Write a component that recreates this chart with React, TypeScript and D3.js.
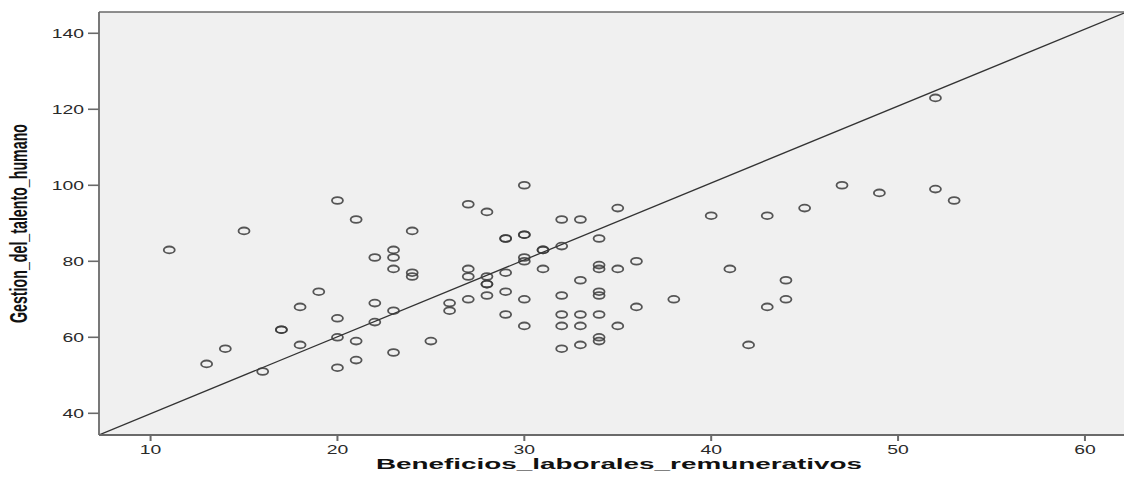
import React from "react";
import * as d3 from "d3";

// Beneficios laborales remunerativos (x) vs Gestión del talento humano (y)
const beneficios: number[] = [
  11, 13, 14, 15, 16, 17, 17, 18, 18, 19,
  20, 20, 20, 20, 21, 21, 21, 22, 22, 22,
  23, 23, 23, 23, 23, 24, 24, 24, 25, 26,
  26, 27, 27, 27, 27, 28, 28, 28, 28, 28,
  29, 29, 29, 29, 29, 30, 30, 30, 30, 30,
  30, 30, 31, 31, 31, 32, 32, 32, 32, 32,
  32, 33, 33, 33, 33, 33, 34, 34, 34, 34,
  34, 34, 34, 34, 35, 35, 35, 36, 36, 38,
  40, 41, 42, 43, 43, 44, 44, 45, 47, 49,
  52, 52, 53,
];
const gestion: number[] = [
  83, 53, 57, 88, 51, 62, 62, 68, 58, 72,
  96, 65, 60, 52, 91, 59, 54, 81, 69, 64,
  83, 81, 78, 67, 56, 88, 77, 76, 59, 69,
  67, 95, 78, 76, 70, 93, 76, 74, 74, 71,
  86, 86, 77, 72, 66, 100, 87, 87, 81, 80,
  70, 63, 83, 83, 78, 91, 84, 71, 66, 63,
  57, 91, 75, 66, 63, 58, 86, 79, 78, 72,
  71, 66, 60, 59, 94, 78, 63, 80, 68, 70,
  92, 78, 58, 92, 68, 75, 70, 94, 100, 98,
  123, 99, 96,
];

const xTicks = [10, 20, 30, 40, 50, 60];
const yTicks = [40, 60, 80, 100, 120, 140];
const xDomain: [number, number] = [7.24, 62.09];
const yDomain: [number, number] = [34.29, 145.6];

// Fitted line: gestion = intercept + slope * beneficios
const fitIntercept = 19.65;
const fitSlope = 2.024;

const xTitle = "Beneficios_laborales_remunerativos";
const yTitle = "Gestion_del_talento_humano";

const W = 1124;
const H = 481;
const plot = { left: 99, right: 1124, top: 12, bottom: 435 };

export default function App() {
  const x = d3.scaleLinear().domain(xDomain).range([plot.left, plot.right]);
  const y = d3.scaleLinear().domain(yDomain).range([plot.bottom, plot.top]);

  const fitLine = d3
    .line<number>()
    .x((d) => x(d))
    .y((d) => y(fitIntercept + fitSlope * d));

  const points = beneficios.map((b, i) => ({ b, g: gestion[i] }));
  const axisColor = "#6a6a6a";
  const textColor = "#2a2a2a";
  const stretch = 1.55;

  return (
    <svg
      width={W}
      height={H}
      style={{ position: "absolute", left: 0, top: 0, background: "#fff" }}
    >
      <defs>
        <clipPath id="plotArea">
          <rect
            x={plot.left}
            y={plot.top}
            width={plot.right - plot.left}
            height={plot.bottom - plot.top}
          />
        </clipPath>
      </defs>

      <rect
        x={plot.left}
        y={plot.top}
        width={plot.right - plot.left}
        height={plot.bottom - plot.top}
        fill="#f0f0f0"
      />

      <g clipPath="url(#plotArea)">
        <path
          d={fitLine(xDomain) || ""}
          fill="none"
          stroke="#333"
          strokeWidth={1.3}
        />
        {points.map((p, i) => (
          <ellipse
            key={i}
            cx={x(p.b)}
            cy={y(p.g)}
            rx={5.5}
            ry={3.4}
            fill="none"
            stroke="#3a3a3a"
            strokeWidth={1.8}
            strokeOpacity={0.85}
          />
        ))}
      </g>

      {/* frame: top edge, left and bottom axes */}
      <line x1={plot.left} x2={plot.right} y1={plot.top} y2={plot.top} stroke={axisColor} strokeWidth={1.5} />
      <line x1={plot.left} x2={plot.left} y1={plot.top} y2={plot.bottom} stroke={axisColor} strokeWidth={1.8} />
      <line x1={plot.left} x2={plot.right} y1={plot.bottom} y2={plot.bottom} stroke={axisColor} strokeWidth={1.8} />

      {yTicks.map((t) => (
        <g key={`y${t}`}>
          <line x1={plot.left - 11} x2={plot.left} y1={y(t)} y2={y(t)} stroke={axisColor} strokeWidth={1.6} />
          <text
            transform={`translate(${plot.left - 15},${y(t) + 4.5}) scale(${stretch},1)`}
            textAnchor="end"
            fontFamily="Liberation Sans, Arial, sans-serif"
            fontSize={12.5}
            fill={textColor}
          >
            {t}
          </text>
        </g>
      ))}

      {xTicks.map((t) => (
        <g key={`x${t}`}>
          <line x1={x(t)} x2={x(t)} y1={plot.bottom} y2={plot.bottom + 6} stroke={axisColor} strokeWidth={2} />
          <text
            transform={`translate(${x(t)},${454}) scale(${stretch},1)`}
            textAnchor="middle"
            fontFamily="Liberation Sans, Arial, sans-serif"
            fontSize={12.5}
            fill={textColor}
          >
            {t}
          </text>
        </g>
      ))}

      <text
        x={(376 + 862) / 2}
        y={469}
        textAnchor="middle"
        fontFamily="Liberation Sans, Arial, sans-serif"
        fontWeight="bold"
        fontSize={15}
        fill="#111"
        textLength={486}
        lengthAdjust="spacingAndGlyphs"
      >
        {xTitle}
      </text>

      <text
        transform={`translate(27,${(124 + 323) / 2}) rotate(-90) scale(1,${stretch})`}
        textAnchor="middle"
        fontFamily="Liberation Sans, Arial, sans-serif"
        fontWeight="bold"
        fontSize={15}
        fill="#111"
        textLength={199}
        lengthAdjust="spacingAndGlyphs"
      >
        {yTitle}
      </text>
    </svg>
  );
}
